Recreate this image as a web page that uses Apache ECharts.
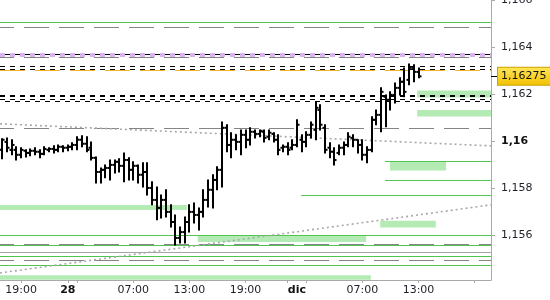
<!DOCTYPE html>
<html><head><meta charset="utf-8">
<script src="https://cdn.jsdelivr.net/npm/echarts@6/dist/echarts.min.js"></script>
<style>html,body{margin:0;padding:0;background:#fff}#c{width:550px;height:300px}</style>
</head><body><div id="c"></div>
<script>
// 30-minute OHLC bars (index = bar slot)
const opens = [
1.15962,1.15996,1.15962,1.15962,1.15941,1.15958,1.15949,1.15958,1.15954,1.15945,
1.15962,1.15966,1.15962,1.15975,1.15971,1.15975,1.15983,1.16005,1.15988,1.15971,
1.15928,1.15868,1.15877,1.15885,1.15898,1.15911,1.15894,1.15919,1.15877,1.15894,
1.15856,1.15868,1.15800,1.15749,1.15715,1.15749,1.15698,1.15655,1.15587,1.15612,
1.15655,1.15698,1.15685,1.15698,1.15749,1.15792,1.15834,1.15877,1.16056,1.15983,
1.16005,1.15996,1.16026,1.16005,1.16039,1.16030,1.16039,1.16018,1.16030,1.16005,
1.15971,1.15975,1.15971,1.15983,1.16005,1.15996,1.16026,1.16047,1.16132,1.16056,
1.15971,1.15954,1.15949,1.15971,1.15983,1.16013,1.16005,1.15983,1.15941,1.15962,
1.16090,1.16111,1.16188,1.16175,1.16196,1.16226,1.16252,1.16260,1.16311,1.16294];
const highs = [
1.16009,1.16013,1.16005,1.15975,1.15971,1.15962,1.15966,1.15971,1.15962,1.15975,
1.15971,1.15979,1.15983,1.15979,1.15983,1.15992,1.16018,1.16022,1.16018,1.15996,
1.15932,1.15885,1.15898,1.15919,1.15919,1.15924,1.15949,1.15928,1.15911,1.15898,
1.15907,1.15907,1.15826,1.15804,1.15770,1.15792,1.15728,1.15685,1.15634,1.15676,
1.15728,1.15736,1.15715,1.15792,1.15834,1.15856,1.15890,1.16081,1.16069,1.16035,
1.16026,1.16047,1.16047,1.16056,1.16047,1.16047,1.16047,1.16047,1.16035,1.16026,
1.15983,1.15992,1.16005,1.16090,1.16026,1.16039,1.16081,1.16167,1.16154,1.16069,
1.15992,1.15971,1.15983,1.15996,1.16035,1.16026,1.16005,1.16005,1.15975,1.16103,
1.16132,1.16226,1.16196,1.16209,1.16247,1.16269,1.16311,1.16328,1.16324,1.16311];
const lows = [
1.15924,1.15954,1.15941,1.15919,1.15928,1.15932,1.15937,1.15941,1.15928,1.15941,
1.15954,1.15949,1.15954,1.15954,1.15958,1.15962,1.15962,1.15975,1.15954,1.15919,
1.15821,1.15821,1.15843,1.15834,1.15864,1.15868,1.15826,1.15834,1.15834,1.15821,
1.15804,1.15770,1.15728,1.15664,1.15672,1.15676,1.15634,1.15557,1.15566,1.15566,
1.15612,1.15651,1.15621,1.15676,1.15719,1.15715,1.15792,1.15804,1.15954,1.15928,
1.15962,1.15941,1.15971,1.15983,1.16013,1.16018,1.15996,1.16005,1.15996,1.15941,
1.15954,1.15941,1.15962,1.15975,1.15954,1.15975,1.16013,1.16005,1.16047,1.15949,
1.15928,1.15898,1.15941,1.15941,1.15975,1.15975,1.15949,1.15919,1.15907,1.15954,
1.16069,1.16039,1.16060,1.16132,1.16162,1.16196,1.16188,1.16239,1.16252,1.16269];
const closes = [
1.16005,1.15971,1.15983,1.15941,1.15962,1.15949,1.15958,1.15954,1.15945,1.15966,
1.15966,1.15962,1.15975,1.15971,1.15975,1.15983,1.16005,1.15988,1.15962,1.15928,
1.15868,1.15877,1.15885,1.15898,1.15911,1.15894,1.15919,1.15877,1.15894,1.15856,
1.15868,1.15800,1.15749,1.15715,1.15749,1.15698,1.15655,1.15587,1.15612,1.15655,
1.15698,1.15685,1.15698,1.15749,1.15792,1.15834,1.15877,1.16056,1.15983,1.16005,
1.15996,1.16026,1.16005,1.16039,1.16030,1.16043,1.16013,1.16035,1.16005,1.15962,
1.15975,1.15962,1.15983,1.16069,1.15996,1.16026,1.16069,1.16141,1.16069,1.15962,
1.15954,1.15919,1.15971,1.15983,1.16018,1.16005,1.15983,1.15941,1.15962,1.16090,
1.16111,1.16209,1.16175,1.16196,1.16226,1.16252,1.16209,1.16311,1.16294,1.16275];
const lastPrice = 1.16275;

// time axis (bar slots)
const slotMin = -0.5, slotMax = 104.5;
const xTickSlots = [4,14,16,28,40,52,61,65,77,89,101];
const xLabelSlots = [4,14,28,40,52,63,77,89];
const xLabels = ['19:00','28','07:00','13:00','19:00','dic','07:00','13:00'];
const boldXLabels = ['28','dic'];

// price axis
const priceMin = 1.15408, priceMax = 1.166;
const priceTicks = [1.156,1.158,1.16,1.162,1.164,1.166];
const boldPrice = 1.16;

// levels
const greenLevels = [1.16506, 1.15599, 1.15556, 1.15508, 1.15471];
const greenPartialLevels = [[81.8, 1.15915], [81.8, 1.15833], [63.9, 1.15770]]; // [start slot, price]
const grayDashLevels = [1.16485, 1.16357, 1.16052, 1.15560, 1.15493];
const graySolidLevels = [1.15526];
const blackDashLevels = [1.16317, 1.16306, 1.16179];
const blackDashAltLevels = [1.16171];
const blackThickLevels = [1.16193];
const orangeLevels = [1.16299];
const purpleLevels = [1.16367];
const trendLines = [[1.16073, 1.15979], [1.15438, 1.15728]]; // price at left edge, price at right edge
const zones = [ // [from slot, to slot, top price, bottom price]
  [-0.5, 39.5, 1.15727, 1.15706],
  [41.8, 77.8, 1.15596, 1.15570],
  [-0.5, 78.8, 1.15428, 1.15409],
  [88.7, 104.5, 1.16215, 1.16185],
  [88.7, 104.5, 1.16132, 1.16104],
  [82.9, 94.9, 1.15910, 1.15874],
  [80.8, 92.7, 1.15660, 1.15631]
];

const ohlc = opens.map((o, i) => [i, o, highs[i], lows[i], closes[i]]);

function hLines(levels, style) {
  return levels.map(p => [
    { coord: [slotMin, p], lineStyle: style },
    { coord: [slotMax, p] }
  ]);
}

const GREEN = '#52c452';
const markLineData = [].concat(
  hLines(purpleLevels, { color: '#d9b4f0', width: 4, type: [5, 5], dashOffset: 0 }),
  hLines(purpleLevels, { color: '#000', width: 1, type: [5, 5], dashOffset: 5 }),
  hLines(greenLevels, { color: GREEN, width: 1, type: 'solid' }),
  greenPartialLevels.map(g => [
    { coord: [g[0], g[1]], lineStyle: { color: GREEN, width: 1, type: 'solid' } },
    { coord: [slotMax, g[1]] }
  ]),
  hLines(grayDashLevels, { color: '#858585', width: 1, type: [25, 10], dashOffset: 11 }),
  hLines(graySolidLevels, { color: '#a5a5a5', width: 1, type: 'solid' }),
  hLines(blackDashLevels, { color: '#000', width: 1, type: [5, 5], dashOffset: 0 }),
  hLines(blackDashAltLevels, { color: '#000', width: 1, type: [5, 5], dashOffset: 5 }),
  hLines(blackThickLevels, { color: '#000', width: 2, type: [5, 5], dashOffset: 0 }),
  hLines(orangeLevels, { color: '#f2b42a', width: 1, type: [25, 10], dashOffset: 0 }),
  trendLines.map(t => [
    { coord: [slotMin, t[0]], lineStyle: { color: '#a8a8a8', width: 1.6, type: [2, 3] } },
    { coord: [slotMax, t[1]] }
  ])
);

const chart = echarts.init(document.getElementById('c'), null, { renderer: 'canvas' });
chart.setOption({
  animation: false,
  backgroundColor: '#fff',
  textStyle: { fontFamily: 'DejaVu Sans' },
  grid: { left: 0, top: 0, right: 59, bottom: 20, containLabel: false, outerBoundsMode: 'none' },
  xAxis: {
    type: 'value', min: slotMin, max: slotMax,
    axisLine: { show: true, onZero: false, lineStyle: { color: '#aaa' } },
    axisTick: { show: true, customValues: xTickSlots, length: 3, lineStyle: { color: '#aaa' } },
    axisLabel: {
      customValues: xLabelSlots, margin: 5, color: '#1e1e28', fontSize: 11,
      fontFamily: 'DejaVu Sans',
      formatter: v => {
        const k = xLabelSlots.indexOf(Math.round(v));
        const t = k >= 0 ? xLabels[k] : '';
        return boldXLabels.includes(t) ? '{b|' + t + '}' : t;
      },
      rich: { b: { fontWeight: 'bold', fontSize: 11, color: '#111', fontFamily: 'DejaVu Sans' } }
    },
    splitLine: { show: false }
  },
  yAxis: [{
    type: 'value', position: 'right', min: priceMin, max: priceMax,
    axisLine: { show: true, onZero: false, lineStyle: { color: '#aaa' } },
    axisTick: { show: true, customValues: priceTicks, length: 4, lineStyle: { color: '#aaa' } },
    axisLabel: {
      customValues: priceTicks, margin: 10, color: '#1e1e28', fontSize: 11,
      fontFamily: 'DejaVu Sans',
      formatter: v => {
        const s = String(+(+v).toFixed(5)).replace('.', ',');
        return Math.abs(v - boldPrice) < 1e-9 ? '{b|' + s + '}' : s;
      },
      rich: { b: { fontWeight: 'bold', fontSize: 11, color: '#111', fontFamily: 'DejaVu Sans' } }
    },
    splitLine: { show: false }
  }, {
    type: 'value', position: 'right', min: priceMin, max: priceMax,
    axisLine: { show: false, onZero: false },
    axisTick: { show: true, customValues: [lastPrice], length: 7, lineStyle: { color: '#000', width: 1 } },
    axisLabel: {
      customValues: [lastPrice], margin: 7, color: '#111', fontSize: 11,
      fontFamily: 'DejaVu Sans',
      formatter: v => String(lastPrice).replace('.', ','),
      backgroundColor: { type: 'linear', x: 0, y: 0, x2: 0, y2: 1,
        colorStops: [{ offset: 0, color: '#ffe75a' }, { offset: 1, color: '#f3c000' }] },
      borderColor: '#c9a200', borderWidth: 1, padding: [3, 4, 3, 3]
    },
    splitLine: { show: false }
  }],
  series: [
    {
      type: 'line', data: [], silent: true, z: 1,
      markArea: {
        silent: true, animation: false, label: { show: false },
        itemStyle: { color: '#b4ebb4' }, emphasis: { disabled: true },
        data: zones.map(zn => [{ coord: [zn[0], zn[2]] }, { coord: [zn[1], zn[3]] }])
      }
    },
    {
      type: 'line', data: [], silent: true, z: 2,
      markLine: { silent: true, symbol: ['none', 'none'], animation: false,
        label: { show: false }, emphasis: { disabled: true }, data: markLineData }
    },
    {
      type: 'custom', z: 5, silent: true,
      encode: { x: 0, y: [1, 2, 3, 4] },
      data: ohlc,
      renderItem: (params, api) => {
        const x = api.value(0);
        const pO = api.coord([x, api.value(1)]);
        const pH = api.coord([x, api.value(2)]);
        const pL = api.coord([x, api.value(3)]);
        const pC = api.coord([x, api.value(4)]);
        const cx = Math.round(pH[0]);
        const st = { stroke: '#000', lineWidth: 2 };
        return { type: 'group', children: [
          { type: 'line', shape: { x1: cx, y1: pH[1] - 0.5, x2: cx, y2: pL[1] + 0.5 }, style: st },
          { type: 'line', shape: { x1: cx - 2.5, y1: pO[1], x2: cx, y2: pO[1] }, style: st },
          { type: 'line', shape: { x1: cx, y1: pC[1], x2: cx + 2.5, y2: pC[1] }, style: st }
        ] };
      }
    }
  ]
});
</script>
</body></html>
